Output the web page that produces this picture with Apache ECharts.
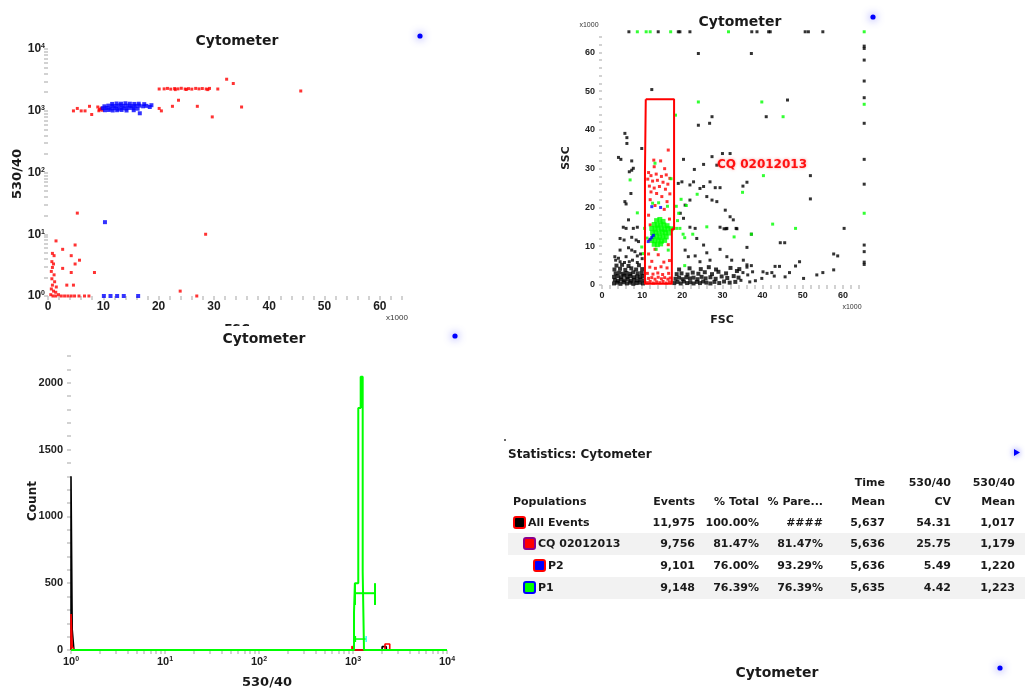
<!DOCTYPE html>
<html><head><meta charset="utf-8">
<script src="https://cdn.jsdelivr.net/npm/echarts@6/dist/echarts.min.js"></script>
<style>html,body{margin:0;padding:0;background:#fff;}#c{width:1025px;height:689px;}</style>
</head><body><div id="c"></div>
<script>
// ---------------- DATA ----------------
// Panel 1 : FSC (x1000) vs 530/40 (log)
const p1XLabels = [0, 10, 20, 30, 40, 50, 60];
const p1YLabels = [1, 10, 100, 1000, 10000];
const p1Red = [
  [20.1,2250],[21.0,2260],[21.6,2300],[22.2,2240],[22.9,2290],[23.5,2260],[24.1,2310],[24.8,2250],[25.4,2280],[26.0,2240],
  [26.7,2300],[27.3,2260],[27.9,2290],[28.6,2250],[29.2,2300],[30.7,2250],[28.9,2200],[25.0,2210],[23.0,2200],
  [32.3,3240],[33.5,2760],[45.7,2090],[35.0,1150],[27.0,1180],[23.6,1480],[22.5,1180],[20.1,1090],[20.5,995],[29.7,795],
  [4.6,995],[5.3,1090],[6.0,995],[6.7,995],[7.5,1180],[7.9,870],[9.0,1150],[9.3,1050],[9.6,1100],[9.2,1000],[9.8,1020],
  [5.3,22],[28.5,10],[1.45,7.8],[4.9,6.7],[2.65,5.7],[0.8,4.9],[1.1,4.5],[4.2,4.5],[5.7,3.8],[4.9,3.3],[2.65,2.8],[4.2,2.4],[8.4,2.4],
  [3.4,1.5],[4.6,1.5],[23.9,1.2],[26.9,1.0],
  [0.7,3.6],[1.0,3.3],[0.8,2.9],[0.6,2.5],[1.1,2.2],[0.7,1.9],[1.2,1.7],[0.8,1.5],[1.5,1.4],[0.6,1.3],[1.0,1.2],[1.4,1.15],
  [0.5,1.05],[0.9,1.0],[1.4,1.0],[1.9,1.05],[2.4,1.0],[3.0,1.0],[3.6,1.0],[4.2,1.0],[4.8,1.0],[5.6,1.0],[6.6,1.0],[7.4,1.0]
];
const p1Blue = [
  [9.9,1100],[10.2,1180],[10.3,1020],[10.6,1110],[10.9,1210],[11.0,1030],[11.3,1090],[11.6,1290],[11.6,1200],[11.7,1010],
  [12.0,1100],[12.3,1190],[12.4,1310],[12.5,1020],[12.7,1080],[13.0,1220],[13.2,1300],[13.3,1030],[13.4,1100],[13.7,1200],
  [14.0,1320],[14.1,1090],[14.2,1010],[14.4,1210],[14.8,1300],[14.8,1110],[15.1,1190],[15.5,1100],[15.5,1020],[15.6,1290],
  [15.8,1200],[16.2,1080],[16.4,1300],[16.5,1210],[16.6,910],[17.2,1180],[17.4,1280],[17.8,1200],[18.4,1150],[18.7,1230],
  [10.3,15.7],[10.1,1],[11.3,1],[12.5,1],[13.7,1],[16.3,1]
];

// Panel 2 : FSC vs SSC (x1000)
const p2XLabels = [0, 10, 20, 30, 40, 50, 60];
const p2YLabels = [0, 10, 20, 30, 40, 50, 60];
const p2Black = [
  [6.7,65.3],[14.0,65.3],[19.0,65.3],[19.4,65.3],[21.9,65.3],[37.3,65.3],[38.6,65.3],[41.5,65.3],[41.9,65.3],[50.6,65.3],[51.4,65.3],[55.0,65.3],
  [65.3,61.6],[65.3,61.0],[65.3,58.0],[65.3,52.6],[65.3,48.3],[65.3,41.7],[65.3,32.4],[65.3,26.0],[65.3,10.3],[65.3,8.6],[65.3,5.9],[65.3,5.3],
  [12.4,50.4],[24.0,59.7],[37.2,59.7],[46.2,47.7],[40.9,43.4],[24.0,41.2],[26.8,41.7],[27.4,43.4],
  [5.7,39.1],[6.2,38.0],[6.2,36.5],[9.9,35.2],[4.7,32.4],[7.4,32.0],[4.1,32.9],[7.8,30.1],[6.8,29.2],[7.4,29.6],[7.2,23.6],[5.7,21.5],[6.0,20.9],[6.6,16.8],
  [20.3,32.4],[23.0,29.8],[25.3,31.1],[27.4,33.1],[28.6,30.9],[30.0,33.9],[31.9,33.9],
  [19.0,26.2],[19.9,26.6],[21.9,25.8],[22.8,26.6],[24.4,24.9],[25.3,25.4],[26.9,26.6],[28.2,25.1],[29.4,25.1],[26.1,22.8],[27.4,21.9],[28.6,21.5],[35.1,25.5],[36.1,26.5],
  [30.7,19.3],[31.9,17.6],[32.7,16.8],[20.7,20.6],[21.9,21.9],[19.5,18.5],[20.3,17.2],
  [51.9,28.2],[51.9,22.2],[60.3,14.6],[37.2,13.1],[33.4,14.6],[30.4,14.5],[30.9,14.5],[33.6,14.5],[29.4,14.9],[31.1,14.6],[21.9,14.9],[23.2,14.6],
  [44.4,10.9],[45.5,10.9],[36.1,9.7],[23.6,12.0],[25.3,10.3],[20.7,9.0],[21.5,7.3],[29.4,9.2],[26.1,8.3],[23.2,7.5],[31.1,7.3],[32.3,6.4],[24.4,6.0],[26.9,6.4],
  [35.2,6.4],[36.1,5.2],[36.1,4.6],[37.2,5.0],[49.2,6.0],[48.2,4.9],[57.7,8.0],[58.7,7.5],[57.7,3.9],[53.5,2.6],[55.0,3.2],[50.2,1.7],[45.6,2.1],[46.7,3.2],
  [44.2,4.8],[43.1,4.8],[42.3,3.2],[42.9,2.3],[40.1,3.4],[41.1,3.0],[38.2,1.1],[39.8,1.7],[37.5,3.4],[36.3,2.6],[35.1,3.2],[34.6,1.2],[36.8,0.8],
  [5.3,14.9],[6.0,14.6],[7.8,14.6],[8.8,14.9],[4.5,12.0],[5.5,11.6],[7.4,12.3],[8.5,11.6],[9.1,11.2],[4.5,9.0],[6.6,9.6],[7.4,9.0],[8.2,8.6],
  [6.0,7.3],[8.8,7.5],[3.2,7.3],[4.1,6.9],[3.4,6.4],[4.5,6.0],[5.6,5.8],[6.8,6.0],[7.6,6.4],[8.8,5.8],[10.0,6.8],[9.6,8.0]
];
const p2BlackDense = [
  [3.0,0.4],[3.8,0.6],[4.6,0.3],[5.4,0.7],[6.2,0.4],[7.0,0.6],[7.8,0.3],[8.6,0.5],[9.4,0.6],[10.2,0.4],
  [3.2,1.3],[4.0,1.1],[4.8,1.4],[5.6,1.2],[6.4,1.5],[7.2,1.1],[8.0,1.3],[8.8,1.2],[9.6,1.4],[10.5,1.2],
  [3.0,2.1],[3.9,2.3],[4.7,2.0],[5.5,2.4],[6.3,2.1],[7.1,2.3],[7.9,2.0],[8.7,2.2],[9.5,2.1],[10.3,2.3],
  [3.4,3.0],[4.3,3.2],[5.2,2.9],[6.1,3.1],[7.0,2.9],[7.8,3.3],[8.9,3.0],[9.9,3.1],
  [3.1,4.0],[4.5,4.2],[5.8,3.9],[7.3,4.3],[8.5,4.0],[10.0,4.1],[3.6,5.0],[5.0,5.2],[6.6,4.9],[9.2,5.1],
  [18.0,0.5],[18.8,0.8],[19.6,0.4],[20.4,0.9],[21.2,0.5],[22.0,0.7],[22.8,0.4],[23.6,0.8],[24.4,0.5],[25.2,0.9],[26.0,0.6],[27.0,0.4],[28.0,0.8],[29.2,0.5],[30.4,0.9],[31.8,0.6],[33.2,0.8],
  [18.3,1.6],[19.2,1.9],[20.1,1.5],[21.0,2.0],[21.9,1.7],[22.8,1.9],[23.8,1.5],[24.8,2.1],[25.8,1.7],[27.0,2.0],[28.3,1.6],[29.8,2.2],[31.2,1.8],[32.8,2.3],[34.0,1.9],
  [18.6,2.8],[19.8,3.0],[21.3,2.7],[22.6,3.2],[24.0,2.9],[25.6,3.3],[27.4,2.8],[29.0,3.4],[30.9,3.0],[33.6,3.6],
  [19.2,4.0],[21.8,4.3],[24.6,4.1],[26.6,4.6],[28.4,4.0],[32.0,4.4],[34.2,4.1]
];
const p2Red = [
  [16.5,34.8],[12.9,32.2],[14.6,32.0],[13.0,30.5],[15.6,30.0],[11.6,29.0],[12.2,28.2],[13.5,28.6],[14.8,28.0],[16.0,28.4],[16.9,27.5],
  [11.4,27.3],[12.6,26.8],[13.8,27.0],[15.2,26.5],[16.4,26.0],[11.8,25.5],[13.0,25.0],[14.3,25.4],[15.8,24.7],[12.2,24.0],[13.6,23.6],
  [16.9,23.5],[14.9,22.8],[12.0,22.0],[16.2,21.5],[13.2,20.5],[15.5,19.5],[11.6,18.0],[16.8,17.0],[12.0,15.5],
  [11.3,0.6],[12.0,0.9],[12.8,0.5],[13.6,0.8],[14.4,0.6],[15.2,0.9],[16.0,0.5],[16.8,0.8],
  [11.6,1.7],[12.4,1.9],[13.2,1.5],[14.0,2.0],[14.8,1.6],[15.6,1.9],[16.4,1.5],[17.0,1.8],
  [11.3,3.0],[12.7,2.8],[13.9,3.1],[15.1,2.7],[16.6,3.0],[11.9,4.6],[13.3,4.3],[14.7,4.7],[16.2,4.4],
  [12.4,6.1],[15.4,5.9],[16.8,6.3],[11.6,8.0],[14.0,7.8],[13.2,9.2],[16.5,10.4],[11.8,11.6]
];
const p2GreenCluster = [
  [13.6,16.6],[14.4,16.9],[15.2,16.4],[13.0,15.6],[13.8,15.4],[14.6,15.7],[15.4,15.5],[16.2,15.3],
  [12.4,14.6],[13.2,14.4],[14.0,14.7],[14.8,14.5],[15.6,14.3],[16.4,14.6],[17.2,14.5],
  [12.6,13.5],[13.4,13.6],[14.2,13.4],[15.0,13.7],[15.8,13.5],[16.6,13.4],
  [12.8,12.5],[13.6,12.6],[14.4,12.3],[15.2,12.6],[16.0,12.4],
  [12.4,11.5],[13.2,11.4],[14.0,11.6],[14.8,11.3],[15.6,11.5],[13.0,10.5],[13.8,10.4],[14.6,10.6]
];
const p2Green = [
  [8.8,65.3],[11.0,65.3],[12.0,65.3],[17.1,65.3],[31.5,65.3],[65.3,65.3],[65.3,46.6],[65.3,18.5],
  [24.0,47.2],[39.8,47.2],[45.1,43.4],[18.3,43.8],[7.0,27.1],[8.8,18.6],[35.0,23.9],[40.2,28.2],[42.5,15.7],[48.2,14.6],
  [32.9,12.4],[37.2,13.1],[26.1,15.0],[22.6,13.1],[20.2,13.1],[20.6,12.2],[17.8,14.6],[18.6,14.6],[19.4,14.6],[10.6,14.6],
  [11.2,12.1],[9.9,9.8],[10.3,8.1],[19.1,18.5],[18.5,20.3],[19.7,22.1],[23.7,23.4],[17.2,27.4],[12.6,21.1],[14.1,21.2],
  [20.6,5.0],[13.2,31.4],[16.3,20.3],[21.0,20.5],[18.8,16.6],[16.5,9.0],[13.5,9.2]
];
const p2Blue = [[12.4,20.2],[14.6,20.0],[11.5,11.2],[12.0,11.8],[12.4,12.3],[12.8,12.8]];
const gateCQ = [[10.9,47.9],[17.95,47.9],[17.95,14.4],[17.4,14.4],[17.4,0.3],[10.7,0.3],[10.7,29.2],[10.9,29.2],[10.9,47.9]];

// Panel 3 : histogram of 530/40 (log) vs Count
const p3XLabels = [1, 10, 100, 1000, 10000];
const p3YLabels = [0, 500, 1000, 1500, 2000];
const histBlackEdges = [1, 1.03, 1.075, 2040, 2260, 10000];
const histBlackCounts = [1300, 155, 0, 25, 0];
const histRedEdges = [1, 1.03, 1.075, 975, 1000, 2190, 2460];
const histRedCounts = [270, 30, 0, 30, 0, 45];
const histGreenEdges = [1, 1025, 1047, 1138, 1207, 1268, 1309, 10000];
const histGreenCounts = [0, 280, 500, 1810, 2045, 585, 0];
const p1RangeX = [1050, 1714];      // P1 range marker
const p1RangeY = [337, 425, 500];
const lowRangeX = [1060, 1380];
const lowRangeY = [60, 82, 105];

// Statistics table
const statHeaderTop = ['', '', '', '', 'Time', '530/40', '530/40'];
const statHeader = ['Populations', 'Events', '% Total', '% Pare...', 'Mean', 'CV', 'Mean'];
const popNames = ['All Events', 'CQ 02012013', 'P2', 'P1'];
const popEvents = ['11,975', '9,756', '9,101', '9,148'];
const popPctTotal = ['100.00%', '81.47%', '76.00%', '76.39%'];
const popPctParent = ['####', '81.47%', '93.29%', '76.39%'];
const popTimeMean = ['5,637', '5,636', '5,636', '5,635'];
const popCV = ['54.31', '25.75', '5.49', '4.42'];
const popMean = ['1,017', '1,179', '1,220', '1,223'];
const popFill = ['#000000', '#ff0000', '#0000ff', '#00ff00'];
const popBorder = ['#ff0000', '#8b008b', '#ff0000', '#0000ff'];
const popIndent = [0, 1, 2, 1];

// ---------------- HELPERS ----------------
const DJ = '"DejaVu Sans"';
const LIB = '"Liberation Sans"';
function range(a, b, s) { const r = []; for (let v = a; v <= b + 1e-9; v += s) r.push(+v.toFixed(4)); return r; }
function logTicks(majors) {
  const t = [];
  for (let i = 0; i < majors.length - 1; i++) for (let k = 1; k < 10; k++) t.push(majors[i] * k);
  t.push(majors[majors.length - 1]);
  return t;
}
function outline(edges, counts) {
  const pts = [[edges[0], 0]];
  for (let i = 0; i < counts.length; i++) { pts.push([edges[i], counts[i]], [edges[i + 1], counts[i]]); }
  pts.push([edges[edges.length - 1], 0]);
  return pts;
}
const logFmt = v => '{b|10}{s|' + Math.round(Math.log10(v)) + '}';
const plainFmt = v => String(v);
function rich(fs) {
  return {
    b: { fontFamily: LIB, fontWeight: 'bold', fontSize: fs, color: '#1e1e1e' },
    s: { fontFamily: LIB, fontWeight: 'bold', fontSize: Math.round(fs * 0.6), color: '#1e1e1e', verticalAlign: 'top', lineHeight: 6 }
  };
}
const tickGrey = { color: '#c4c4c4', width: 1.5 };
function scat(data, color, xi, size) {
  return { type: 'scatter', xAxisIndex: xi, yAxisIndex: xi, data: data, symbol: 'rect', symbolSize: size || 3,
    itemStyle: { color: color }, clip: false, silent: true, animation: false };
}
function lineS(data, color, xi, w, z) {
  return { type: 'line', xAxisIndex: xi, yAxisIndex: xi, data: data, symbol: 'none', clip: false, z: z || 2,
    lineStyle: { color: color, width: w }, silent: true, animation: false };
}

// ---------------- GRAPHICS (titles, table, decorations) ----------------
const g = [];
function txt(t, x, y, font, fill, align, rot, z) {
  g.push({ type: 'text', x: x, y: y, rotation: rot || 0, z: z || 10,
    style: { text: t, x: 0, y: 0, font: font, fill: fill || '#1a1a1a', align: align || 'center', textAlign: align || 'center',
      verticalAlign: 'middle', textVerticalAlign: 'middle' } });
}
function glowDot(x, y) {
  g.push({ type: 'circle', shape: { cx: x, cy: y, r: 2.6 }, z: 10,
    style: { fill: '#0000ff', shadowBlur: 8, shadowColor: '#4a4aff' } });
}
const titleFont = 'bold 14px ' + DJ;
txt('Cytometer', 237, 41, titleFont);
txt('Cytometer', 740, 22, titleFont);
txt('Cytometer', 264, 339, titleFont, '#1a1a1a', 'center', 0, 30);
txt('Cytometer', 777, 673, titleFont);
glowDot(420, 36); glowDot(873, 17); glowDot(455, 336); glowDot(1000, 668);
g.push({ type: 'polygon', shape: { points: [[1014, 449], [1020, 452.5], [1014, 456]] }, z: 10,
  style: { fill: '#0000ff', shadowBlur: 6, shadowColor: '#4a4aff' } });
g.push({ type: 'circle', shape: { cx: 505, cy: 440, r: 1 }, style: { fill: '#333' }, z: 10 });

// axis titles
txt('530/40', 18, 174, 'bold 13px ' + DJ, '#1a1a1a', 'center', Math.PI / 2);
txt('FSC', 237, 330, 'bold 12px ' + DJ);
g.push({ type: 'rect', shape: { x: 150, y: 326, width: 200, height: 14 }, style: { fill: '#fff' }, z: 20 });
txt('x1000', 397, 318, '8px ' + LIB, '#333');
txt('SSC', 566, 158, 'bold 11px ' + DJ, '#1a1a1a', 'center', Math.PI / 2);
txt('FSC', 722, 320, 'bold 11px ' + DJ);
txt('x1000', 589, 25, '7px ' + LIB, '#333');
txt('x1000', 852, 307, '7px ' + LIB, '#333');
g.push({ type: 'text', x: 762, y: 165, z: 10,
  style: { text: 'CQ 02012013', x: 0, y: 0, font: 'bold 12px ' + DJ, fill: '#ff1010', align: 'center', textAlign: 'center',
    verticalAlign: 'middle', textVerticalAlign: 'middle', textShadowColor: 'rgba(255,80,80,0.6)', textShadowBlur: 3 } });
txt('Count', 33, 501, 'bold 12px ' + DJ, '#1a1a1a', 'center', Math.PI / 2);
txt('530/40', 267, 683, 'bold 13px ' + DJ);

// statistics table
txt('Statistics: Cytometer', 508, 455, 'bold 12px ' + DJ, '#1a1a1a', 'left');
const colRight = [0, 695, 759, 823, 885, 951, 1015];
const rowY = [523, 544, 566, 588];
const tFont = 'bold 11px ' + DJ;
[1, 3].forEach(i => {
  g.push({ type: 'rect', shape: { x: 508, y: rowY[i] - 11, width: 517, height: 22 }, style: { fill: '#f2f2f2' }, z: 1 });
});
for (let c = 0; c < 7; c++) {
  if (statHeaderTop[c]) txt(statHeaderTop[c], colRight[c], 483, tFont, '#1a1a1a', 'right');
  if (c === 0) txt(statHeader[c], 513, 502, tFont, '#1a1a1a', 'left');
  else txt(statHeader[c], colRight[c], 502, tFont, '#1a1a1a', 'right');
}
const cols = [popEvents, popPctTotal, popPctParent, popTimeMean, popCV, popMean];
for (let r = 0; r < popNames.length; r++) {
  const ix = 513 + popIndent[r] * 10;
  g.push({ type: 'rect', shape: { x: ix + 1, y: rowY[r] - 6, width: 11, height: 11, r: 2 }, z: 10,
    style: { fill: popFill[r], stroke: popBorder[r], lineWidth: 2 } });
  txt(popNames[r], ix + 15, rowY[r], tFont, '#1a1a1a', 'left');
  for (let c = 0; c < cols.length; c++) txt(cols[c][r], colRight[c + 1], rowY[r], tFont, '#1a1a1a', 'right');
}

// ---------------- CHART ----------------
const chart = echarts.init(document.getElementById('c'), null, { renderer: 'canvas' });
const option = {
  animation: false,
  backgroundColor: '#ffffff',
  grid: [
    { left: 48, top: 49, width: 359.5, height: 247 },
    { left: 602, top: 31, width: 263, height: 254 },
    { left: 71, top: 356, width: 376, height: 294 }
  ],
  xAxis: [
    { gridIndex: 0, type: 'value', min: 0, max: 65, axisLine: { show: false }, splitLine: { show: false },
      axisTick: { show: true, customValues: range(0, 64, 2), length: 4, lineStyle: tickGrey },
      axisLabel: { customValues: p1XLabels, formatter: plainFmt, fontFamily: LIB, fontWeight: 'bold', fontSize: 12, color: '#1e1e1e', margin: 5 } },
    { gridIndex: 1, type: 'value', min: 0, max: 65.5, axisLine: { show: false }, splitLine: { show: false },
      axisTick: { show: true, customValues: range(0, 64, 2), length: 4, lineStyle: tickGrey },
      axisLabel: { customValues: p2XLabels, formatter: plainFmt, fontFamily: LIB, fontWeight: 'bold', fontSize: 9, color: '#1e1e1e', margin: 6 } },
    { gridIndex: 2, type: 'log', logBase: 10, min: 1, max: 10000, axisLine: { show: false }, splitLine: { show: false },
      axisTick: { show: true, customValues: logTicks(p3XLabels), length: 4, lineStyle: tickGrey },
      axisLabel: { customValues: p3XLabels, formatter: logFmt, rich: rich(11), margin: 6 } }
  ],
  yAxis: [
    { gridIndex: 0, type: 'log', logBase: 10, min: 1, max: 10000, axisLine: { show: false }, splitLine: { show: false },
      axisTick: { show: true, customValues: logTicks(p1YLabels), length: 4, lineStyle: tickGrey },
      axisLabel: { customValues: p1YLabels, formatter: logFmt, rich: rich(12), margin: 3 } },
    { gridIndex: 1, type: 'value', min: 0, max: 65.5, axisLine: { show: false }, splitLine: { show: false },
      axisTick: { show: true, customValues: range(0, 64, 2), length: 3, lineStyle: tickGrey },
      axisLabel: { customValues: p2YLabels, formatter: plainFmt, fontFamily: LIB, fontWeight: 'bold', fontSize: 9, color: '#1e1e1e', margin: 7 } },
    { gridIndex: 2, type: 'value', min: 0, max: 2200, axisLine: { show: false }, splitLine: { show: false },
      axisTick: { show: true, customValues: range(0, 2200, 100), length: 4, lineStyle: tickGrey },
      axisLabel: { customValues: p3YLabels, formatter: plainFmt, fontFamily: LIB, fontWeight: 'bold', fontSize: 11, color: '#1e1e1e', margin: 8 } }
  ],
  series: [
    scat(p1Red, '#ff0000', 0, 3),
    scat(p1Blue, '#0000ff', 0, 4),
    scat(p2Black, '#000000', 1, 3),
    scat(p2BlackDense, '#000000', 1, 4),
    scat(p2Red, '#ff0000', 1, 3),
    scat(p2GreenCluster, '#00ff00', 1, 5),
    scat(p2Green, '#00ff00', 1, 3),
    scat(p2Blue, '#0000ff', 1, 3),
    lineS(gateCQ, '#ff0000', 1, 2, 5),
    lineS(outline(histBlackEdges, histBlackCounts), '#000000', 2, 1.6, 2),
    lineS(outline(histRedEdges, histRedCounts), '#ff0000', 2, 1.6, 3),
    lineS(outline(histGreenEdges, histGreenCounts), '#00ff00', 2, 2, 4),
    lineS([[p1RangeX[0], p1RangeY[1]], [p1RangeX[1], p1RangeY[1]]], '#00ff00', 2, 2, 5),
    lineS([[p1RangeX[0], p1RangeY[0]], [p1RangeX[0], p1RangeY[2]]], '#00ff00', 2, 2, 5),
    lineS([[p1RangeX[1], p1RangeY[0]], [p1RangeX[1], p1RangeY[2]]], '#00ff00', 2, 2, 5),
    lineS([[lowRangeX[0], lowRangeY[1]], [lowRangeX[1], lowRangeY[1]]], '#00ff00', 2, 1.5, 5),
    lineS([[lowRangeX[0], lowRangeY[0]], [lowRangeX[0], lowRangeY[2]]], '#00ff00', 2, 1.5, 5),
    lineS([[lowRangeX[1], lowRangeY[0]], [lowRangeX[1], lowRangeY[2]]], '#33ffee', 2, 1.5, 5)
  ],
  graphic: g
};
chart.setOption(option);
</script></body></html>
